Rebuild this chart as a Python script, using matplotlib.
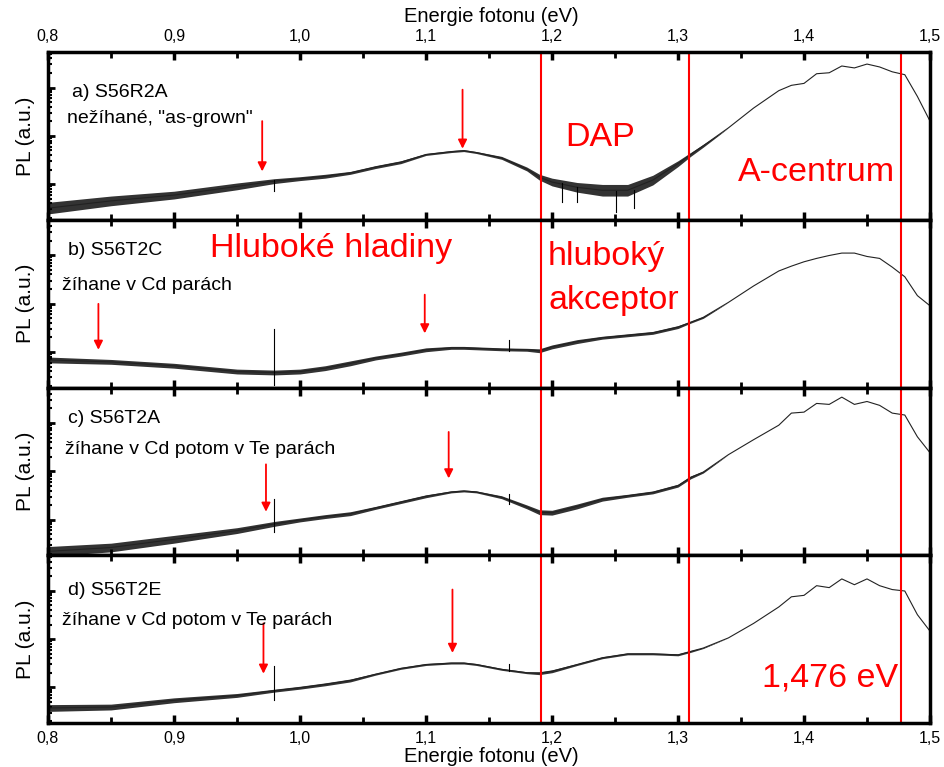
import numpy as np
import matplotlib
matplotlib.use("Agg")
import matplotlib.pyplot as plt
from matplotlib.ticker import FixedLocator, FuncFormatter, NullFormatter

plt.rcParams['font.family'] = ['Liberation Sans', 'DejaVu Sans']

# photon energy grid (eV)
energy = [0.80, 0.85, 0.90, 0.95, 0.98,
          1.00, 1.02, 1.04, 1.06, 1.08, 1.10,
          1.12, 1.13, 1.14, 1.16, 1.18, 1.19,
          1.20, 1.22, 1.24, 1.26, 1.28,
          1.30, 1.31, 1.32, 1.34, 1.36, 1.38,
          1.39, 1.40, 1.41, 1.42, 1.43, 1.44, 1.45, 1.46, 1.47, 1.48, 1.49, 1.50]

# log10 of PL intensity (a.u.)
log_pl_a = [0.24, 0.39, 0.51, 0.69, 0.80,
            0.85, 0.90, 0.97, 1.09, 1.19, 1.35,
            1.41, 1.43, 1.39, 1.28, 1.05, 0.88,
            0.78, 0.67, 0.61, 0.61, 0.82,
            1.16, 1.35, 1.53, 1.90, 2.31, 2.67,
            2.78, 2.82, 3.02, 3.04, 3.18, 3.14, 3.22, 3.16, 3.06, 3.00, 2.55, 2.04]
log_pl_b = [0.57, 0.53, 0.45, 0.33, 0.31,
            0.33, 0.40, 0.50, 0.61, 0.69, 0.78,
            0.82, 0.82, 0.81, 0.79, 0.78, 0.76,
            0.84, 0.95, 1.03, 1.08, 1.13,
            1.25, 1.35, 1.45, 1.76, 2.10, 2.41,
            2.51, 2.60, 2.67, 2.73, 2.78, 2.78, 2.71, 2.67, 2.49, 2.29, 1.90, 1.69]
log_pl_c = [0.08, 0.16, 0.33, 0.51, 0.65,
            0.73, 0.80, 0.86, 0.98, 1.10, 1.22,
            1.31, 1.33, 1.31, 1.20, 1.00, 0.89,
            0.88, 1.01, 1.16, 1.23, 1.30,
            1.44, 1.61, 1.72, 2.08, 2.39, 2.69,
            2.94, 2.96, 3.14, 3.12, 3.27, 3.12, 3.18, 3.10, 2.94, 2.90, 2.45, 2.12]
log_pl_d = [0.31, 0.33, 0.47, 0.57, 0.67,
            0.73, 0.80, 0.88, 1.01, 1.13, 1.21,
            1.24, 1.24, 1.21, 1.11, 1.04, 1.03,
            1.07, 1.21, 1.35, 1.43, 1.43,
            1.41, 1.48, 1.55, 1.76, 2.06, 2.40,
            2.61, 2.64, 2.84, 2.80, 2.98, 2.86, 2.98, 2.84, 2.76, 2.73, 2.24, 1.90]

# half width of the noise band (decades), zero above 1.32 eV
noise_a = [0.12, 0.10, 0.08, 0.07, 0.05, 0.04, 0.04, 0.03, 0.03, 0.03, 0.02, 0.02, 0.02,
           0.02, 0.03, 0.04, 0.06, 0.08, 0.10, 0.12, 0.12, 0.10, 0.06, 0.04, 0.03] + [0] * 15
noise_b = [0.06, 0.05, 0.05, 0.05, 0.05, 0.05, 0.05, 0.05, 0.04, 0.04, 0.04, 0.03, 0.03,
           0.03, 0.03, 0.03, 0.04, 0.04, 0.04, 0.03, 0.03, 0.03, 0.03, 0.02, 0.02] + [0] * 15
noise_c = [0.10, 0.09, 0.08, 0.06, 0.05, 0.04, 0.04, 0.04, 0.03, 0.03, 0.03, 0.02, 0.02,
           0.02, 0.03, 0.04, 0.05, 0.05, 0.05, 0.04, 0.03, 0.03, 0.03, 0.03, 0.02] + [0] * 15
noise_d = [0.07, 0.06, 0.05, 0.04, 0.03, 0.03, 0.03, 0.03, 0.02, 0.02, 0.02, 0.02, 0.02,
           0.02, 0.02, 0.02, 0.03, 0.03, 0.02, 0.02, 0.02, 0.02, 0.02, 0.02, 0.01] + [0] * 15

# narrow spikes: (energy, log low, log high)
spikes_a = [(0.979, 0.59, 0.82), (1.208, 0.37, 0.76), (1.220, 0.37, 0.68),
            (1.251, 0.17, 0.60), (1.265, 0.24, 0.62)]
spikes_b = [(0.979, 0.06, 1.22), (1.166, 0.76, 0.98)]
spikes_c = [(0.979, 0.49, 1.16), (1.166, 1.06, 1.27)]
spikes_d = [(0.979, 0.47, 1.18), (1.166, 1.08, 1.22)]

# red arrows: (energy, log start, log end)
arrows_a = [(0.970, 2.04, 1.00), (1.129, 2.69, 1.47)]
arrows_b = [(0.840, 1.73, 0.78), (1.099, 1.92, 1.12)]
arrows_c = [(0.973, 1.88, 0.90), (1.118, 2.55, 1.59)]
arrows_d = [(0.971, 2.06, 1.02), (1.121, 2.76, 1.45)]

sample_names = ["a) S56R2A", "b) S56T2C", "c) S56T2A", "d) S56T2E"]
treatments = ['nežíhané, "as-grown"', "žíhane v Cd parách",
              "žíhane v Cd potom v Te parách", "žíhane v Cd potom v Te parách"]

red_lines = [1.191, 1.309, 1.477]
x_ticks = [0.8, 0.9, 1.0, 1.1, 1.2, 1.3, 1.4, 1.5]

panels = [
    (log_pl_a, noise_a, spikes_a, arrows_a),
    (log_pl_b, noise_b, spikes_b, arrows_b),
    (log_pl_c, noise_c, spikes_c, arrows_c),
    (log_pl_d, noise_d, spikes_d, arrows_d),
]

fig = plt.figure(figsize=(9.44, 7.67), dpi=100)
gs = fig.add_gridspec(4, 1, left=48/944, right=930/944, top=1-52/767,
                      bottom=1-723/767, hspace=0)
axes = [fig.add_subplot(gs[i]) for i in range(4)]

ytop = 170 / 49
major_y = [10 ** (0.735 + k) for k in range(-1, 4)]
minor_y = [10 ** (0.735 + k) * m for k in range(-1, 4) for m in range(2, 10)]

label_pos = [(0.027, 0.73, 0.0215, 0.576), (0.023, 0.79, 0.016, 0.583),
             (0.023, 0.79, 0.019, 0.605), (0.023, 0.765, 0.016, 0.584)]

for i, (ax, (lp, nz, sp, ar)) in enumerate(zip(axes, panels)):
    e = np.array(energy)
    v = np.array(lp)
    n = np.array(nz)
    ax.fill_between(e, 10 ** (v - n), 10 ** (v + n), color='k', lw=0, alpha=0.8)
    ax.plot(e, 10 ** v, color='#222222', lw=0.8)
    for xs, lo, hi in sp:
        ax.plot([xs, xs], [10 ** lo, 10 ** hi], color='k', lw=0.8)
    for xa, y0, y1 in ar:
        ax.annotate('', xy=(xa, 10 ** y1), xytext=(xa, 10 ** y0),
                    arrowprops=dict(arrowstyle='-|>', color='red', lw=1.3,
                                    mutation_scale=13, shrinkA=0, shrinkB=0))
    for xl in red_lines:
        ax.axvline(xl, color='red', lw=1.5)

    ax.set_yscale('log')
    ax.set_ylim(1, 10 ** ytop)
    ax.set_xlim(0.8, 1.5)
    ax.yaxis.set_major_locator(FixedLocator(major_y))
    ax.yaxis.set_minor_locator(FixedLocator(minor_y))
    ax.yaxis.set_major_formatter(NullFormatter())
    ax.yaxis.set_minor_formatter(NullFormatter())
    ax.xaxis.set_major_locator(FixedLocator(x_ticks))
    ax.xaxis.set_minor_locator(FixedLocator([0.85, 0.95, 1.05, 1.15, 1.25, 1.35, 1.45]))
    ax.xaxis.set_major_formatter(FuncFormatter(lambda x, p: f"{x:.1f}".replace('.', ',')))
    ax.tick_params(axis='x', which='major', direction='in', top=True, bottom=True,
                   length=6, width=2.5, labelsize=11.5, pad=6,
                   labelbottom=(i == 3), labeltop=(i == 0))
    ax.tick_params(axis='x', which='minor', direction='in', top=True, bottom=True,
                   length=4, width=2)
    ax.tick_params(axis='y', which='major', direction='in', left=True, right=False,
                   length=5, width=2)
    ax.tick_params(axis='y', which='minor', direction='in', left=True, right=False,
                   length=3, width=1.5)
    for s in ax.spines.values():
        s.set_linewidth(2.5)

    ax.set_ylabel("PL (a.u.)", fontsize=15, labelpad=6)

    x1, y1, x2, y2 = label_pos[i]
    ax.text(x1, y1, sample_names[i], transform=ax.transAxes, fontsize=14,
            va='baseline', ha='left')
    ax.text(x2, y2, treatments[i], transform=ax.transAxes, fontsize=14,
            va='baseline', ha='left')

red_kw = dict(color='red', fontsize=24.5, va='baseline', ha='left')
axes[0].text(0.586, 0.44, "DAP", transform=axes[0].transAxes, **red_kw)
axes[0].text(0.782, 0.23, "A-centrum", transform=axes[0].transAxes, **red_kw)
axes[1].text(0.184, 0.78, "Hluboké hladiny", transform=axes[1].transAxes, **red_kw)
axes[1].text(0.567, 0.732, "hluboký", transform=axes[1].transAxes, **red_kw)
axes[1].text(0.567, 0.47, "akceptor", transform=axes[1].transAxes, **red_kw)
axes[3].text(0.81, 0.22, "1,476 eV", transform=axes[3].transAxes, **red_kw)

fig.text(491/944, 1-17/767, "Energie fotonu (eV)", fontsize=14.5, ha='center', va='center')
fig.text(491/944, 1-757/767, "Energie fotonu (eV)", fontsize=14.5, ha='center', va='center')

fig.savefig("out.png", dpi=100)
